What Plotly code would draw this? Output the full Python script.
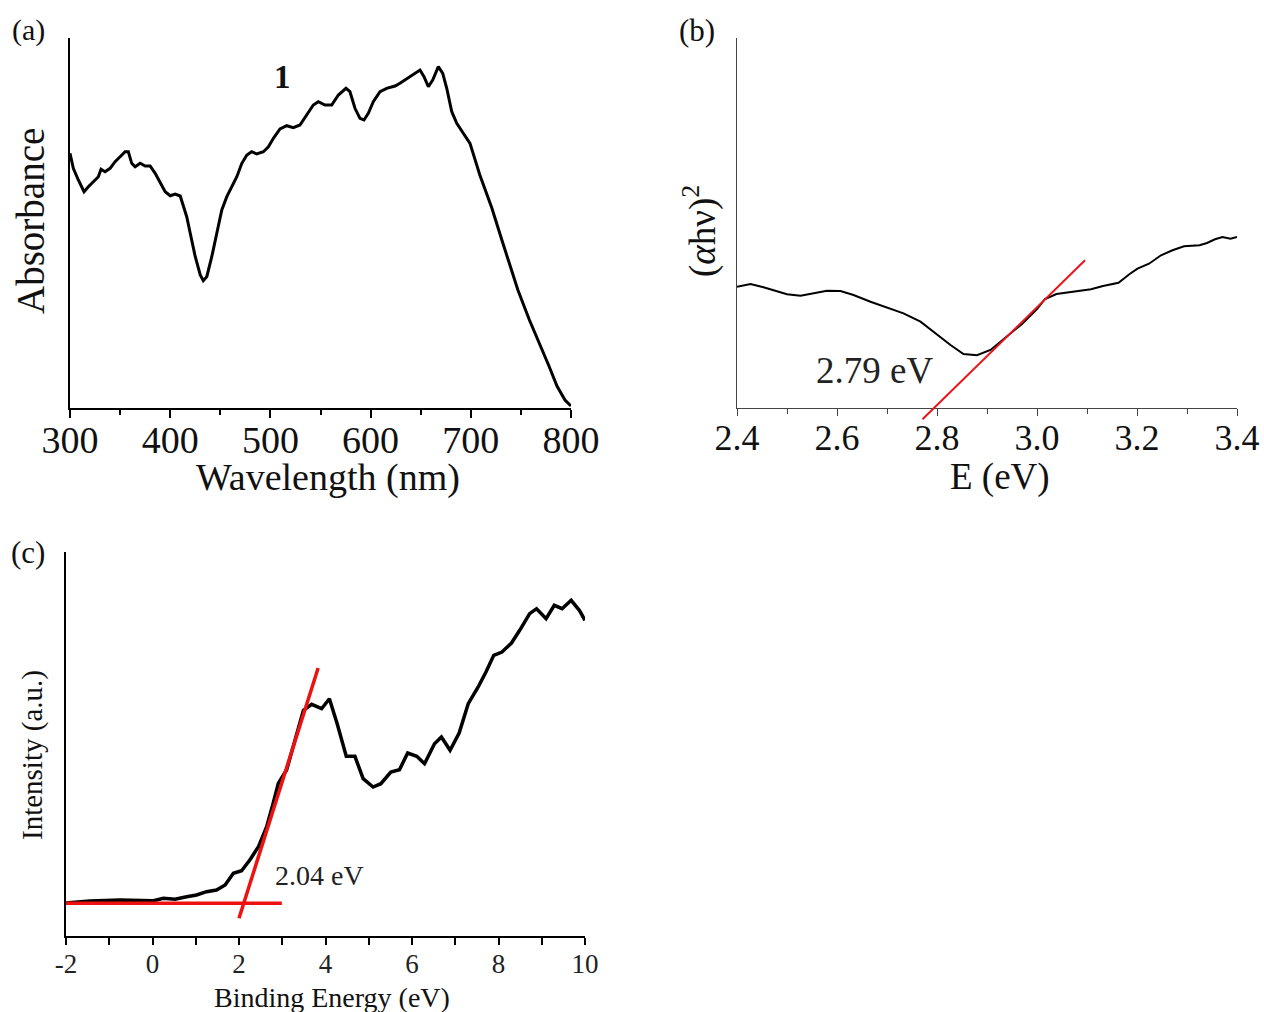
import plotly.graph_objects as go

W, H = 1264, 1012
FONT = "Liberation Serif"

# ---------------- Panel (a): absorbance spectrum ----------------
wl = [300, 303.3, 308.3, 314, 318.3, 323.3, 328.3, 331, 335, 340, 345, 350, 355, 358.2,
      361.6, 365, 370, 375, 380, 385, 390, 395, 400, 405, 410, 413, 416.5, 420, 425,
      430, 433, 436.5, 441.5, 446.5, 451.5, 456.5, 461.5, 466.5, 471.5, 476.5, 481.3,
      486.3, 493, 498, 503, 509.6, 516.3, 522.9, 529.5, 536.2, 542.8, 547.8, 554.5,
      561.2, 567.8, 575.4, 579.4, 584.4, 589.4, 593.4, 597.7, 602.7, 609.4, 616, 624.4,
      629.3, 636, 642.6, 649.3, 653.3, 657.6, 662, 667.6, 672, 676, 681, 686, 692.5,
      699.2, 709, 721, 731, 739, 747, 758.5, 768.5, 778, 786, 794, 800]
absorb = [254.7, 239.7, 228, 216.3, 221.3, 226.3, 231.3, 238.7, 236.3, 239.7, 246.3, 251.3,
          256.3, 256.3, 244.7, 241.3, 244.7, 242, 242, 234.7, 224.7, 216.3, 212.3, 214, 212,
          203, 191.3, 174.7, 151.3, 133, 127.3, 131.3, 151.3, 174.7, 198, 211.3, 221.3,
          231.3, 244.7, 253, 256.3, 254, 256.3, 261.3, 269.7, 279, 282.3, 280.3, 283,
          293, 303, 306.3, 303, 303, 313, 319.7, 316.3, 299.7, 289.7, 288, 294.7, 306.3,
          316.3, 319.7, 322, 324.7, 329, 333.7, 338, 331.3, 321.3, 328, 341.3, 334.7,
          319.7, 296.3, 284.7, 274.7, 264.7, 233, 200, 168, 142, 118, 88, 65, 42, 22, 8, 2]
wl_ticks = [300, 400, 500, 600, 700, 800]
wl_minor = [350, 450, 550, 650, 750]

# ---------------- Panel (b): Tauc plot ----------------
e_b = [2.400, 2.427, 2.453, 2.480, 2.500, 2.527, 2.553, 2.580, 2.607, 2.633, 2.667,
       2.700, 2.733, 2.767, 2.800, 2.827, 2.853, 2.880, 2.907, 2.939, 2.970, 3.000,
       3.016, 3.039, 3.077, 3.108, 3.132, 3.163, 3.186, 3.201, 3.224, 3.248, 3.271,
       3.294, 3.325, 3.340, 3.356, 3.371, 3.387, 3.400]
ahv2 = [121.3, 124.0, 120.7, 116.3, 113.7, 112.3, 114.7, 117.3, 117.0, 113.0, 106.3,
        100.7, 94.7, 86.3, 73.0, 63.0, 54.0, 52.7, 58.0, 71.0, 84.0, 99.0,
        109.0, 114.0, 116.7, 118.7, 122.0, 125.3, 134.3, 139.3, 144.3, 152.7, 157.7,
        161.7, 162.7, 165.0, 168.7, 171.0, 169.3, 171.0]
fit_b_x = [2.771, 3.096]
fit_b_y = [-11.3, 147.7]
e_ticks = [2.4, 2.6, 2.8, 3.0, 3.2, 3.4]
e_tick_text = ["2.4", "2.6", "2.8", "3.0", "3.2", "3.4"]
e_minor = [2.5, 2.7, 2.9, 3.1, 3.3]

# ---------------- Panel (c): XPS valence band ----------------
be = [-2.0, -1.45, -0.75, 0.02, 0.25, 0.52, 0.79, 1.02, 1.25, 1.48, 1.68, 1.87, 2.06,
      2.25, 2.45, 2.64, 2.79, 2.91, 3.10, 3.26, 3.39, 3.49, 3.68, 3.91, 4.09, 4.27,
      4.48, 4.68, 4.87, 5.10, 5.28, 5.51, 5.71, 5.90, 6.11, 6.29, 6.52, 6.68, 6.88,
      7.09, 7.30, 7.53, 7.71, 7.89, 8.08, 8.30, 8.49, 8.72, 8.88, 9.10, 9.29, 9.47,
      9.68, 9.87, 10.0]
intensity = [33.0, 35.0, 36.0, 35.3, 37.7, 36.7, 39.3, 41.0, 44.3, 46.0, 51.0, 62.7, 65.3,
             76.0, 89.3, 109.3, 132.7, 152.7, 166.0, 189.3, 209.3, 225.7, 231.7, 227.3,
             237.3, 212.3, 179.7, 179.7, 157.3, 149.0, 152.3, 164.0, 166.3, 183.0, 179.7,
             172.3, 192.3, 199.0, 185.7, 203.0, 232.3, 249.0, 264.0, 280.7, 284.0, 293.0,
             305.7, 322.3, 327.3, 317.3, 330.7, 327.3, 335.7, 325.7, 315.7]
base_c_x = [-2.0, 2.99]
base_c_y = [32.7, 32.7]
edge_c_x = [2.0, 3.83]
edge_c_y = [17.7, 268.0]
be_ticks = [-2, 0, 2, 4, 6, 8, 10]
be_minor = [-1, 1, 3, 5, 7, 9]


def fx(px):
    return px / W


def fy(py):
    return 1 - py / H


# plot-area boxes (pixels)
A = dict(x0=70, x1=571, y0=38, y1=408)
B = dict(x0=737, x1=1237, y0=38, y1=408)
C = dict(x0=66, x1=585, y0=552, y1=936)

fig = go.Figure()

fig.add_trace(go.Scatter(x=wl, y=absorb, mode="lines", line=dict(color="black", width=3),
                         xaxis="x", yaxis="y", showlegend=False, hoverinfo="skip"))
fig.add_trace(go.Scatter(x=e_b, y=ahv2, mode="lines", line=dict(color="black", width=2),
                         xaxis="x2", yaxis="y2", showlegend=False, hoverinfo="skip"))
fig.add_trace(go.Scatter(x=fit_b_x, y=fit_b_y, mode="lines", line=dict(color="#e8141b", width=2),
                         xaxis="x4", yaxis="y4", showlegend=False, hoverinfo="skip"))
fig.add_trace(go.Scatter(x=be, y=intensity, mode="lines", line=dict(color="black", width=3.5),
                         xaxis="x3", yaxis="y3", showlegend=False, hoverinfo="skip"))
fig.add_trace(go.Scatter(x=base_c_x, y=base_c_y, mode="lines", line=dict(color="#ee1111", width=3.5),
                         xaxis="x3", yaxis="y3", showlegend=False, hoverinfo="skip"))
fig.add_trace(go.Scatter(x=edge_c_x, y=edge_c_y, mode="lines", line=dict(color="#ee1111", width=3.5),
                         xaxis="x3", yaxis="y3", showlegend=False, hoverinfo="skip"))
# empty traces so the tick-label axes exist
for xa, ya in (("x5", "y"), ("x6", "y2"), ("x7", "y3")):
    fig.add_trace(go.Scatter(x=[], y=[], xaxis=xa, yaxis=ya, showlegend=False))

yb_lo, yb_hi = fy(B["y1"]), fy(B["y0"])
ext = 20.0
yb4_lo = yb_lo - (yb_hi - yb_lo) * ext / 370.0

common_y = dict(showgrid=False, zeroline=False, showticklabels=False, ticks="", automargin=False)


def tick_axis(dom, rng, anchor, ticks, minor, color, lw, tlen, mlen):
    return dict(domain=dom, range=rng, anchor=anchor, showline=True, linecolor=color,
                linewidth=lw, showgrid=False, zeroline=False, showticklabels=False,
                tickmode="array", tickvals=ticks, ticks="outside", ticklen=tlen, tickwidth=lw,
                tickcolor=color, automargin=False,
                minor=dict(tickmode="array", tickvals=minor, ticks="outside", ticklen=mlen,
                           tickwidth=lw, tickcolor=color, showgrid=False))


def label_axis(over, rng, pos_px, vals, text, size, color="#111"):
    return dict(overlaying=over, range=rng, anchor="free", position=fy(pos_px), side="bottom",
                showline=False, showgrid=False, zeroline=False, ticks="",
                tickmode="array", tickvals=vals, ticktext=text, automargin=False,
                tickfont=dict(size=size, family=FONT, color=color))


fig.update_layout(
    width=W, height=H,
    margin=dict(l=0, r=0, t=0, b=0, pad=0, autoexpand=False),
    paper_bgcolor="white", plot_bgcolor="rgba(0,0,0,0)",
    font=dict(family=FONT, color="#111"),
    xaxis=tick_axis([fx(A["x0"]), fx(A["x1"])], [300, 800], "y", wl_ticks, wl_minor,
                    "black", 2, 8, 5),
    yaxis=dict(domain=[fy(A["y1"]), fy(A["y0"])], range=[0, 370], anchor="x",
               showline=True, linecolor="black", linewidth=2, **common_y),
    xaxis2=tick_axis([fx(B["x0"]), fx(B["x1"])], [2.4, 3.4], "y2", e_ticks, e_minor,
                     "#444", 1.2, 7, 5),
    yaxis2=dict(domain=[yb_lo, yb_hi], range=[0, 370], anchor="x2",
                showline=True, linecolor="#444", linewidth=1.2, **common_y),
    xaxis4=dict(domain=[fx(B["x0"]), fx(B["x1"])], range=[2.4, 3.4], anchor="y4",
                visible=False, automargin=False),
    yaxis4=dict(domain=[yb4_lo, yb_hi], range=[-ext, 370], anchor="x4", visible=False,
                automargin=False),
    xaxis3=tick_axis([fx(C["x0"]), fx(C["x1"])], [-2, 10], "y3", be_ticks, be_minor,
                     "black", 1.6, 7, 7),
    yaxis3=dict(domain=[fy(C["y1"]), fy(C["y0"])], range=[0, 384], anchor="x3",
                showline=True, linecolor="black", linewidth=2, **common_y),
    xaxis5=label_axis("x", [300, 800], 413.5, wl_ticks, [str(v) for v in wl_ticks], 38),
    xaxis6=label_axis("x2", [2.4, 3.4], 412.5, e_ticks, e_tick_text, 36),
    xaxis7=label_axis("x3", [-2, 10], 944.5, be_ticks, [str(v) for v in be_ticks], 27, "#222"),
)


def note(text, px, py, size, angle=0, color="#111"):
    fig.add_annotation(text=text, xref="paper", yref="paper", x=fx(px), y=fy(py),
                       xanchor="center", yanchor="middle", showarrow=False, textangle=angle,
                       font=dict(family=FONT, size=size, color=color))


# panel (a)
note("(a)", 28, 30, 30)
note("Absorbance", 31, 221, 39, angle=-90)
note("Wavelength (nm)", 328, 477, 38)
fig.add_annotation(text="<b>1</b>", xref="x", yref="y", x=512.5, y=331, showarrow=False,
                   font=dict(family=FONT, size=33, color="#111"))
# panel (b)
note("(b)", 697, 30, 31)
note("(<i>α</i>hν)<sup>2</sup>", 700, 231, 37, angle=-90)
note("E (eV)", 1000, 477, 37)
fig.add_annotation(text="2.79 eV", xref="x2", yref="y2", x=2.674, y=38, showarrow=False,
                   font=dict(family=FONT, size=37, color="#222"))
# panel (c)
note("(c)", 28, 552, 31)
note("Intensity (a.u.)", 32, 755, 29, angle=-90)
note("Binding Energy (eV)", 332, 997, 28)
fig.add_annotation(text="2.04 eV", xref="x3", yref="y3", x=3.85, y=61, showarrow=False,
                   font=dict(family=FONT, size=28, color="#222"))

fig.write_html("out.html", config={"displayModeBar": False},
               post_script="document.body.style.margin='0';document.body.style.overflow='hidden';")
